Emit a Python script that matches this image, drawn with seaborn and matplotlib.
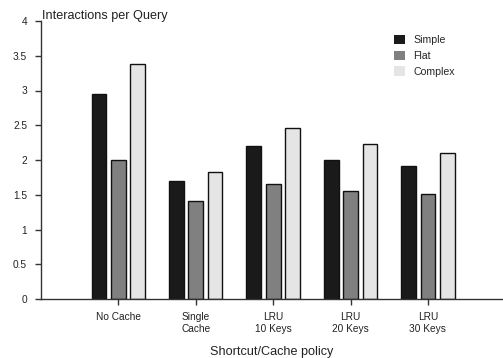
import matplotlib
matplotlib.use("Agg")
import matplotlib.pyplot as plt
import matplotlib.transforms as mtransforms
from matplotlib.patches import Patch
import seaborn as sns
import pandas as pd

policies = ["No Cache", "Single\nCache", "LRU\n10 Keys", "LRU\n20 Keys", "LRU\n30 Keys"]
series = ["Simple", "Flat", "Complex"]
simple = [2.95, 1.70, 2.20, 2.00, 1.91]
flat = [2.00, 1.41, 1.655, 1.56, 1.51]
complex_ = [3.38, 1.83, 2.455, 2.225, 2.10]
yticks = [0, 0.5, 1, 1.5, 2, 2.5, 3, 3.5, 4]
yticklabels = ["0", "0.5", "1", "1.5", "2", "2.5", "3", "3.5", "4"]

colors = {"Simple": "#1a1a1a", "Flat": "#808080", "Complex": "#e5e5e5"}

df = pd.DataFrame({
    "policy": policies * 3,
    "series": [s for s in series for _ in policies],
    "value": simple + flat + complex_,
})

sns.set_style("white")
plt.rcParams["font.family"] = ["Liberation Sans", "DejaVu Sans"]

fig = plt.figure(figsize=(5.03, 3.58), dpi=100)
ax = fig.add_axes([41 / 503, 1 - 299 / 358, 1 - 41 / 503, (299 - 21) / 358])

sns.barplot(data=df, x="policy", y="value", hue="series", order=policies,
            hue_order=series, palette=colors, width=0.75, gap=0.24,
            edgecolor="#111111", linewidth=1.0, saturation=1, ax=ax,
            legend=False)

ax.set_xlim(-1.0, 4.97)
ax.set_ylim(0, 4)
ax.set_yticks(yticks)
ax.set_yticklabels(yticklabels)

for side in ["top", "right"]:
    ax.spines[side].set_visible(False)
for side in ["left", "bottom"]:
    ax.spines[side].set_color("#333333")
    ax.spines[side].set_linewidth(1.0)
ax.spines["left"].set_bounds(0, 4)

ax.tick_params(axis="both", which="major", direction="out", length=4.5,
               width=1.0, color="#333333", labelsize=7.3, labelcolor="#222222",
               left=True, bottom=True, pad=5)
ax.tick_params(axis="y", pad=5.5)
ax.set_xlabel("Shortcut/Cache policy", fontsize=9.1, color="#222222", labelpad=8.5)
ax.set_ylabel("")

# y-axis title sits horizontally just above the top of the axis
title_tf = mtransforms.blended_transform_factory(ax.transAxes, ax.transData)
ax.text(0.003, 4.03, "Interactions per Query", fontsize=9.1, color="#222222",
        ha="left", va="baseline", transform=title_tf)

handles = [Patch(facecolor=colors[s], edgecolor="none", label=s) for s in series]
ax.legend(handles=handles, frameon=False, fontsize=7.6,
          loc="upper left", bbox_to_anchor=(0.755, 0.965),
          handlelength=1.0, handleheight=1.0, handletextpad=0.85,
          labelspacing=0.5, borderaxespad=0)

fig.savefig("out.png", dpi=100)
